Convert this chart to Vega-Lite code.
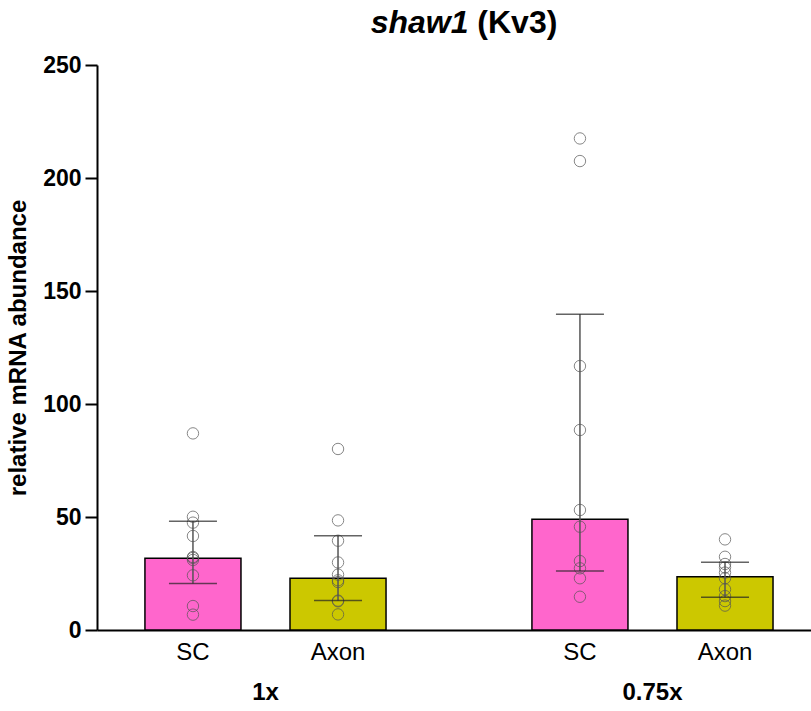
{
  "$schema": "https://vega.github.io/schema/vega-lite/v6.json",
  "width": 714,
  "height": 565,
  "autosize": {"type": "none"},
  "padding": {"left": 97, "top": 65, "right": 0, "bottom": 81},
  "config": {"view": {"stroke": null}, "font": "Liberation Sans"},
  "title": {
    "text": "shaw1\u00a0\u00a0\u00a0\u00a0\u00a0\u00a0\u00a0\u00a0\u00a0\u00a0\u200b",
    "subtitle": "\u200b\u00a0\u00a0\u00a0\u00a0\u00a0\u00a0\u00a0\u00a0\u00a0\u00a0\u00a0\u00a0(Kv3)",
    "fontSize": 32,
    "fontWeight": "bold",
    "fontStyle": "italic",
    "color": "black",
    "subtitleFontSize": 32,
    "subtitleFontWeight": "bold",
    "subtitleFontStyle": "normal",
    "subtitleColor": "black",
    "subtitlePadding": -32,
    "anchor": "middle",
    "dx": 10,
    "offset": 14
  },
  "datasets": {
    "summary": [
      {"group": "1x", "type": "SC", "median": 31.7, "lo": 20.6, "hi": 48.1},
      {"group": "1x", "type": "Axon", "median": 22.9, "lo": 13.0, "hi": 41.7},
      {"group": "0.75x", "type": "SC", "median": 49.0, "lo": 26.1, "hi": 139.7},
      {"group": "0.75x", "type": "Axon", "median": 23.6, "lo": 14.5, "hi": 30.0}
    ],
    "points": [
      {"group": "1x", "type": "SC", "value": 87.0, "jit": 0},
      {"group": "1x", "type": "SC", "value": 50.1, "jit": -1},
      {"group": "1x", "type": "SC", "value": 47.5, "jit": 0},
      {"group": "1x", "type": "SC", "value": 41.6, "jit": 0},
      {"group": "1x", "type": "SC", "value": 32.3, "jit": -1},
      {"group": "1x", "type": "SC", "value": 31.0, "jit": 0},
      {"group": "1x", "type": "SC", "value": 31.9, "jit": 1},
      {"group": "1x", "type": "SC", "value": 24.2, "jit": 0},
      {"group": "1x", "type": "SC", "value": 10.6, "jit": 0.5},
      {"group": "1x", "type": "SC", "value": 6.8, "jit": -0.5},
      {"group": "1x", "type": "Axon", "value": 80.1, "jit": 0},
      {"group": "1x", "type": "Axon", "value": 48.5, "jit": 0},
      {"group": "1x", "type": "Axon", "value": 39.5, "jit": 0},
      {"group": "1x", "type": "Axon", "value": 29.9, "jit": 0},
      {"group": "1x", "type": "Axon", "value": 24.5, "jit": -1},
      {"group": "1x", "type": "Axon", "value": 21.2, "jit": 0},
      {"group": "1x", "type": "Axon", "value": 22.0, "jit": 1},
      {"group": "1x", "type": "Axon", "value": 13.0, "jit": -0.5},
      {"group": "1x", "type": "Axon", "value": 12.7, "jit": 0.5},
      {"group": "1x", "type": "Axon", "value": 6.9, "jit": 0},
      {"group": "0.75x", "type": "SC", "value": 217.5, "jit": 0},
      {"group": "0.75x", "type": "SC", "value": 207.5, "jit": 0},
      {"group": "0.75x", "type": "SC", "value": 116.8, "jit": 0},
      {"group": "0.75x", "type": "SC", "value": 88.5, "jit": 0},
      {"group": "0.75x", "type": "SC", "value": 53.1, "jit": 0},
      {"group": "0.75x", "type": "SC", "value": 45.7, "jit": 0},
      {"group": "0.75x", "type": "SC", "value": 30.5, "jit": 0.5},
      {"group": "0.75x", "type": "SC", "value": 27.3, "jit": -0.5},
      {"group": "0.75x", "type": "SC", "value": 22.9, "jit": 0.5},
      {"group": "0.75x", "type": "SC", "value": 14.7, "jit": 0},
      {"group": "0.75x", "type": "Axon", "value": 40.1, "jit": 0},
      {"group": "0.75x", "type": "Axon", "value": 32.4, "jit": 1},
      {"group": "0.75x", "type": "Axon", "value": 29.2, "jit": -1},
      {"group": "0.75x", "type": "Axon", "value": 27.7, "jit": 0},
      {"group": "0.75x", "type": "Axon", "value": 25.4, "jit": 1},
      {"group": "0.75x", "type": "Axon", "value": 22.9, "jit": -1},
      {"group": "0.75x", "type": "Axon", "value": 18.0, "jit": 1},
      {"group": "0.75x", "type": "Axon", "value": 15.0, "jit": 0},
      {"group": "0.75x", "type": "Axon", "value": 12.8, "jit": 1},
      {"group": "0.75x", "type": "Axon", "value": 10.8, "jit": -1}
    ]
  },
  "encoding": {
    "x": {
      "field": "group",
      "type": "nominal",
      "sort": ["1x", "0.75x"],
      "scale": {"type": "band", "paddingInner": 0.377, "paddingOuter": 0.111, "align": 0.558},
      "axis": {
        "title": null,
        "ticks": false,
        "tickSize": 0,
        "domainColor": "black",
        "domainWidth": 2,
        "labelFontSize": 24,
        "labelFontWeight": "bold",
        "labelColor": "black",
        "labelPadding": 50,
        "labelAngle": 0
      }
    },
    "xOffset": {
      "field": "type",
      "type": "nominal",
      "sort": ["SC", "Axon"],
      "scale": {"paddingInner": 0.338, "paddingOuter": 0}
    }
  },
  "layer": [
    {
      "data": {"name": "summary"},
      "mark": {"type": "bar", "stroke": "black", "strokeWidth": 1.5},
      "encoding": {
        "y": {
          "field": "median",
          "type": "quantitative",
          "title": "relative mRNA abundance",
          "scale": {"domain": [0, 250], "nice": false},
          "axis": {
            "values": [0, 50, 100, 150, 200, 250],
            "grid": false,
            "domainColor": "black",
            "domainWidth": 2,
            "tickColor": "black",
            "tickWidth": 2,
            "tickSize": 12,
            "labelFontSize": 23,
            "labelFontWeight": "bold",
            "labelColor": "black",
            "labelPadding": 4,
            "titleFontSize": 24,
            "titleFontWeight": "bold",
            "titleColor": "black",
            "titlePadding": 12
          }
        },
        "color": {
          "field": "type",
          "type": "nominal",
          "scale": {"domain": ["SC", "Axon"], "range": ["#FF66CC", "#CCC800"]},
          "legend": null
        }
      }
    },
    {
      "data": {"name": "points"},
      "transform": [{"filter": "datum.jit == -1"}],
      "mark": {"type": "point", "shape": "circle", "filled": false, "size": 130, "stroke": "#555555", "strokeWidth": 1, "xOffset": -23.3},
      "encoding": {"y": {"field": "value", "type": "quantitative", "title": "relative mRNA abundance"}}
    },
    {
      "data": {"name": "points"},
      "transform": [{"filter": "datum.jit == -0.5"}],
      "mark": {"type": "point", "shape": "circle", "filled": false, "size": 130, "stroke": "#555555", "strokeWidth": 1, "xOffset": -11.7},
      "encoding": {"y": {"field": "value", "type": "quantitative", "title": "relative mRNA abundance"}}
    },
    {
      "data": {"name": "points"},
      "transform": [{"filter": "datum.jit == 0"}],
      "mark": {"type": "point", "shape": "circle", "filled": false, "size": 130, "stroke": "#555555", "strokeWidth": 1},
      "encoding": {"y": {"field": "value", "type": "quantitative", "title": "relative mRNA abundance"}}
    },
    {
      "data": {"name": "points"},
      "transform": [{"filter": "datum.jit == 0.5"}],
      "mark": {"type": "point", "shape": "circle", "filled": false, "size": 130, "stroke": "#555555", "strokeWidth": 1, "xOffset": 11.7},
      "encoding": {"y": {"field": "value", "type": "quantitative", "title": "relative mRNA abundance"}}
    },
    {
      "data": {"name": "points"},
      "transform": [{"filter": "datum.jit == 1"}],
      "mark": {"type": "point", "shape": "circle", "filled": false, "size": 130, "stroke": "#555555", "strokeWidth": 1, "xOffset": 23.3},
      "encoding": {"y": {"field": "value", "type": "quantitative", "title": "relative mRNA abundance"}}
    },
    {
      "data": {"name": "summary"},
      "mark": {"type": "rule", "color": "#555555", "strokeWidth": 1.5},
      "encoding": {
        "y": {"field": "lo", "type": "quantitative", "title": "relative mRNA abundance"},
        "y2": {"field": "hi"}
      }
    },
    {
      "data": {"name": "summary"},
      "mark": {"type": "tick", "color": "#222222", "thickness": 1.5, "size": 48},
      "encoding": {"y": {"field": "hi", "type": "quantitative", "title": "relative mRNA abundance"}}
    },
    {
      "data": {"name": "summary"},
      "mark": {"type": "tick", "color": "#222222", "thickness": 1.5, "size": 48},
      "encoding": {"y": {"field": "lo", "type": "quantitative", "title": "relative mRNA abundance"}}
    },
    {
      "data": {"name": "summary"},
      "mark": {"type": "text", "fontSize": 24, "color": "black", "baseline": "middle"},
      "encoding": {
        "text": {"field": "type"},
        "y": {"datum": -10, "type": "quantitative"}
      }
    }
  ]
}
